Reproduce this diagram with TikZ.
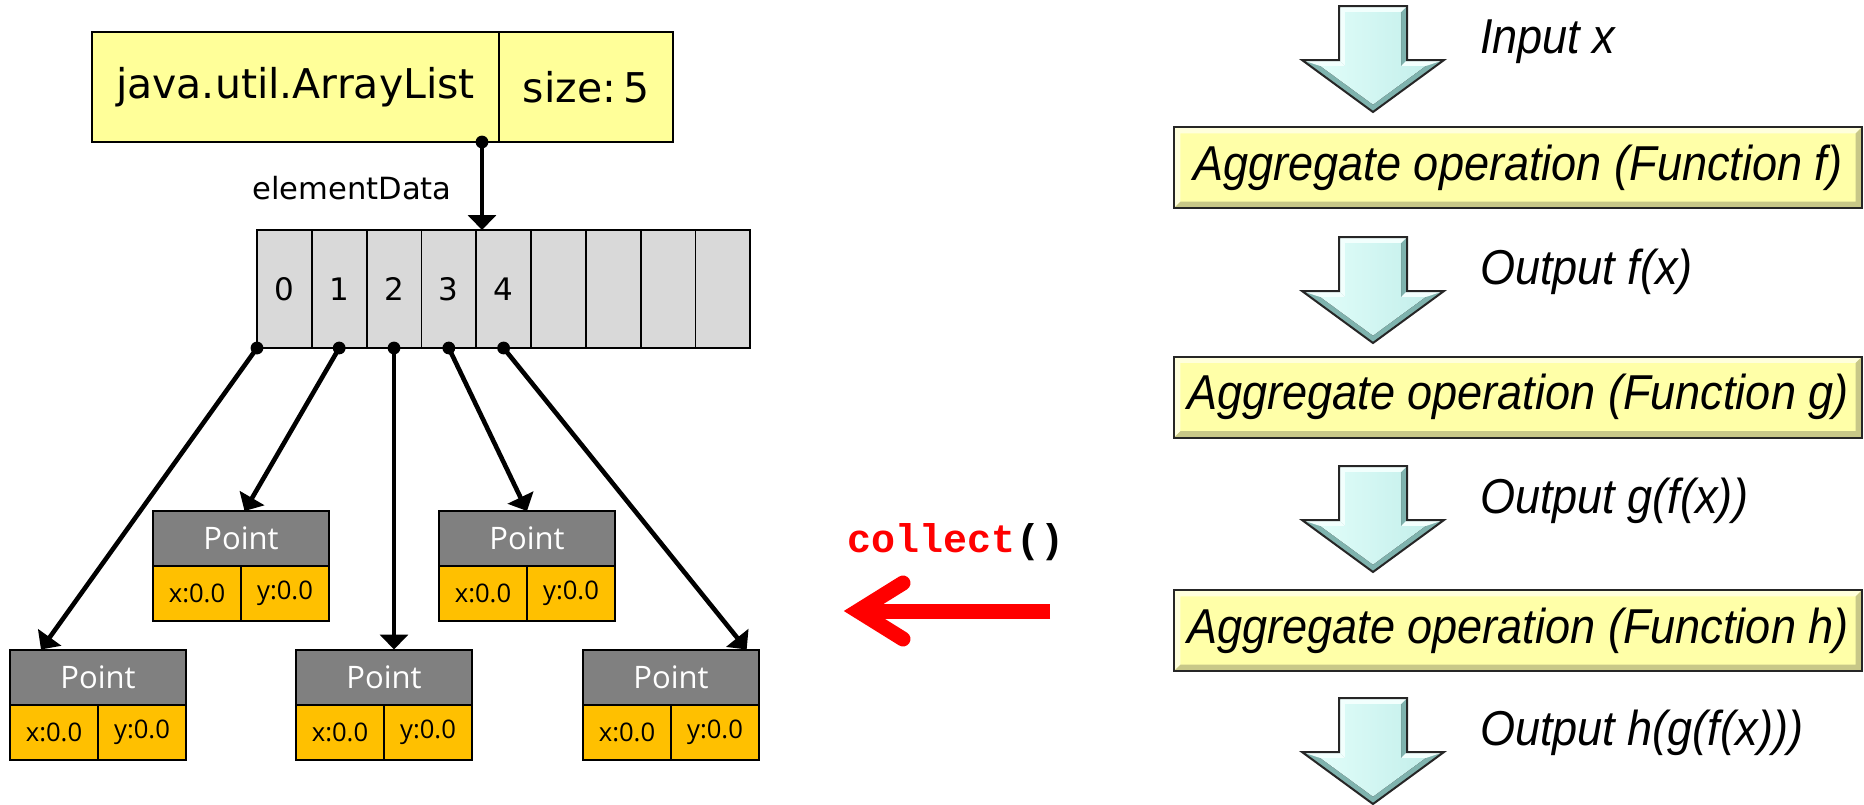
\documentclass[tikz,border=0pt]{standalone}
\usepackage{fontspec}
\usetikzlibrary{arrows.meta,calc}
\newfontfamily\tahfont{DejaVu Sans}
\newfontfamily\segfont{Open Sans}
\newfontfamily\arifont[FakeStretch=0.92]{Liberation Sans}
\newfontfamily\codefont{Liberation Mono}
\definecolor{listyellow}{HTML}{FFFF99}
\definecolor{cellgray}{HTML}{D9D9D9}
\definecolor{headgray}{HTML}{808080}
\definecolor{fieldgold}{HTML}{FFC000}
\definecolor{opyellow}{HTML}{FFFFA8}
\definecolor{oplight}{HTML}{FFFFDC}
\definecolor{opdark}{HTML}{C8C888}
\definecolor{flowlight}{HTML}{F2FFFD}
\definecolor{flowdark}{HTML}{7FB3AE}
\definecolor{flowmidA}{HTML}{E0FDF9}
\definecolor{flowmidB}{HTML}{C4EFEB}
\definecolor{collectred}{HTML}{FF0000}
\tikzset{
  box/.style={draw=black, line width=1pt, inner sep=0pt, outer sep=0pt},
  listbox/.style={box, fill=listyellow, minimum height=55pt,
    font=\tahfont\fontsize{20.5pt}{24pt}\selectfont},
  cell/.style={box, line width=0.9pt, fill=cellgray, minimum width=27.4pt,
    minimum height=59pt, font=\tahfont\fontsize{15.5pt}{18pt}\selectfont},
  pthead/.style={box, fill=headgray, text=white, minimum width=88pt,
    minimum height=27.5pt, font=\segfont\fontsize{15.5pt}{18pt}\selectfont},
  ptfield/.style={box, fill=fieldgold, minimum width=44pt, minimum height=27.5pt,
    font=\segfont\fontsize{12.8pt}{15pt}\selectfont},
  ref/.style={line width=2.3pt, -{Triangle[length=7.5pt,width=14pt]}},
  refdot/.style={fill=black},
  plain/.style={inner sep=0pt, outer sep=0pt},
  flowtext/.style={plain, anchor=base west, font=\arifont\itshape\fontsize{24.5pt}{28pt}\selectfont},
  opbox/.style={draw=black!85, line width=1pt, fill=opyellow, inner sep=0pt, outer sep=0pt,
    minimum width=344pt, minimum height=40.5pt,
    font=\arifont\itshape\fontsize{24.5pt}{28pt}\selectfont,
    path picture={
      \fill[oplight] (path picture bounding box.north west)
        -- (path picture bounding box.north east)
        -- ([shift={(-3.2pt,-3.2pt)}]path picture bounding box.north east)
        -- ([shift={(3.2pt,-3.2pt)}]path picture bounding box.north west)
        -- ([shift={(3.2pt,3.2pt)}]path picture bounding box.south west)
        -- (path picture bounding box.south west) -- cycle;
      \fill[opdark] (path picture bounding box.south west)
        -- (path picture bounding box.south east)
        -- (path picture bounding box.north east)
        -- ([shift={(-3.2pt,-3.2pt)}]path picture bounding box.north east)
        -- ([shift={(-3.2pt,3.2pt)}]path picture bounding box.south east)
        -- ([shift={(3.2pt,3.2pt)}]path picture bounding box.south west) -- cycle;
    }},
  flowarrow/.pic={
    \fill[flowdark] (-34,0) -- (34,0) -- (34,54) -- (71,54) -- (0,106) -- (-71,54) -- (-34,54) -- cycle;
    \fill[flowlight] (-34,0) -- (34,0) -- (28,6) -- (-28,6) -- (-28,60) -- (-34,54) -- cycle;
    \fill[flowlight] (-34,54) -- (-71,54) -- (-52.7,60) -- (-28,60) -- cycle;
    \fill[flowlight] (34,54) -- (71,54) -- (52.7,60) -- (28,60) -- cycle;
    \fill[left color=flowmidA, right color=flowmidB] (-28,6) -- (28,6) -- (28,60) -- (52.7,60)
      -- (0,98.6) -- (-52.7,60) -- (-28,60) -- cycle;
    \draw[line width=1pt, black!85, line join=miter] (-34,0) -- (34,0) -- (34,54) -- (71,54)
      -- (0,106) -- (-71,54) -- (-34,54) -- cycle;
  }
}
\begin{document}
\begin{tikzpicture}[x=0.5pt,y=-0.5pt]
\useasboundingbox (0,0) rectangle (1864,804);

% ArrayList header object
\node[listbox, minimum width=203.5pt] (alist) at (295.5,87) {java.util.ArrayList};
\node[listbox, minimum width=87pt, anchor=west] (asize) at (alist.east) {size:\,5};

% backing array
\foreach \i/\lab in {0/0,1/1,2/2,3/3,4/4,5/,6/,7/,8/}
  \node[cell] (c\i) at ({257+54.8*(\i+0.5)},289) {\lab};

\node[plain, font=\tahfont\fontsize{15.3pt}{18pt}\selectfont] (edlabel) at (352,188) {elementData};

\coordinate (ed) at ($(alist.south east)+(-17,0)$);
\draw[ref] (ed) -- (ed |- c4.north);
\fill[refdot] (ed) circle[radius=3.2pt];

% Point objects
\foreach \n/\x/\y in {pA/98/677, pB/241/538.5, pC/384/677, pD/527/538.5, pE/671/677} {
  \node[pthead] (\n) at (\x,\y) {Point};
  \node[ptfield, anchor=north east] (\n-x) at (\n.south) {x:0.0};
  \node[ptfield, anchor=north west] (\n-y) at (\n.south) {y:0.0};
}

% references from the array slots
\draw[ref] (c0.south west) -- ($(pA.north west)!0.176!(pA.north east)$);
\draw[ref] (c1.south) -- ($(pB.north west)!0.52!(pB.north east)$);
\draw[ref] (c2.south) -- (c2.south |- pC.north);
\draw[ref] (c3.south) -- (pD.north);
\draw[ref] (c4.south) -- ($(pE.north west)!0.93!(pE.north east)$);
\fill[refdot] (c0.south west) circle[radius=3.2pt];
\foreach \i in {1,2,3,4}
  \fill[refdot] (c\i.south) circle[radius=3.2pt];

% collect() arrow
\node[plain, anchor=base, font=\codefont\bfseries\fontsize{20pt}{24pt}\selectfont]
  (collect) at (956,552) {\textcolor{collectred}{collect}()};
\coordinate (ctail) at (1050,611);
\coordinate (cvert) at (858,611);
\coordinate (carmup) at (903,583);
\coordinate (carmdn) at (903,639);
\draw[collectred, line width=7.5pt] (ctail) -- (cvert);
\draw[collectred, line width=7.5pt, line cap=round, line join=miter] (carmup) -- (cvert) -- (carmdn);

% stream pipeline
\pic at (1373,6) {flowarrow};
\pic at (1373,237) {flowarrow};
\pic at (1373,466) {flowarrow};
\pic at (1373,698) {flowarrow};

\node[flowtext] (inx) at (1480,53) {Input x};
\node[opbox] (opf) at (1518,167.5) {Aggregate operation (Function f)};
\node[flowtext] (outf) at (1480,284) {Output f(x)};
\node[opbox] (opg) at (1518,397) {Aggregate operation (Function g)};
\node[flowtext] (outg) at (1480,513) {Output g(f(x))};
\node[opbox] (oph) at (1518,630.5) {Aggregate operation (Function h)};
\node[flowtext] (outh) at (1480,745) {Output h(g(f(x)))};
\end{tikzpicture}
\end{document}
